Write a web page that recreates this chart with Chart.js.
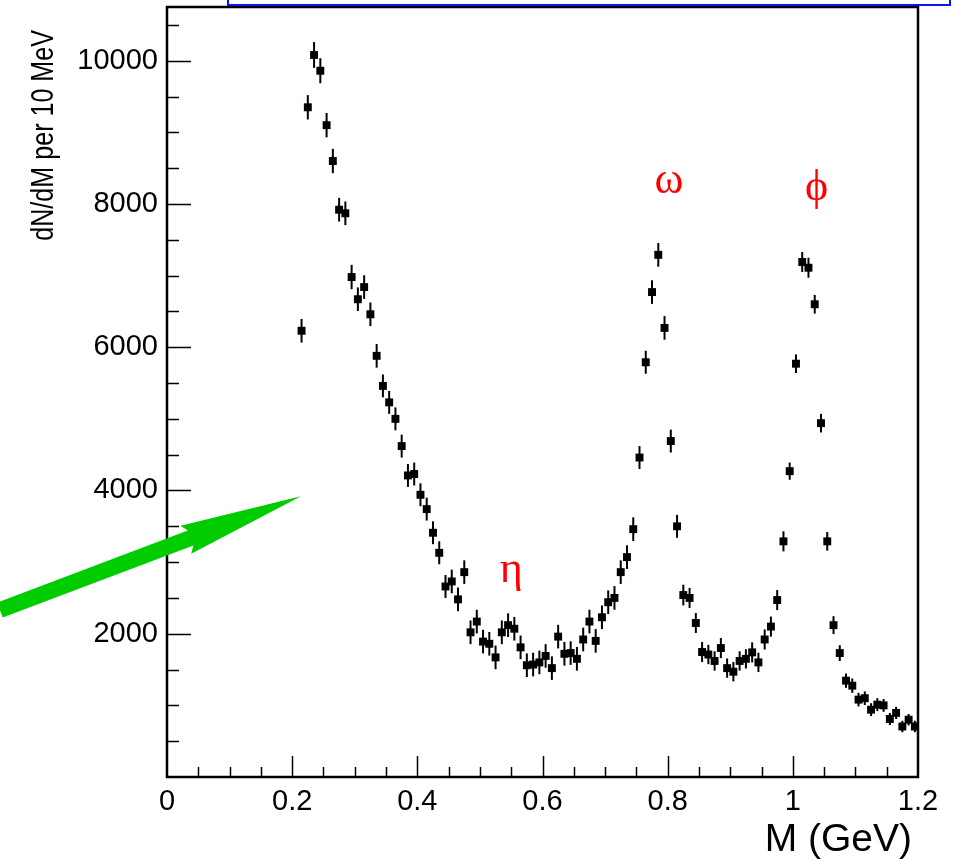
<!DOCTYPE html>
<html>
<head>
<meta charset="utf-8">
<title>Dimuon mass spectrum</title>
<script src="https://cdn.jsdelivr.net/npm/chart.js@4.4.0/dist/chart.umd.min.js"></script>
<style>
  html, body { margin: 0; padding: 0; background: #fff; }
  #wrap { width: 958px; height: 862px; }
</style>
</head>
<body>
<div id="wrap"><canvas id="massChart" width="958" height="862"></canvas></div>
<script>
// bin centres in GeV (10 MeV bins)
const massBins = [
  0.215, 0.225, 0.235, 0.245, 0.255, 0.265, 0.275, 0.285, 0.295, 0.305,
  0.315, 0.325, 0.335, 0.345, 0.355, 0.365, 0.375, 0.385, 0.395, 0.405,
  0.415, 0.425, 0.435, 0.445, 0.455, 0.465, 0.475, 0.485, 0.495, 0.505,
  0.515, 0.525, 0.535, 0.545, 0.555, 0.565, 0.575, 0.585, 0.595, 0.605,
  0.615, 0.625, 0.635, 0.645, 0.655, 0.665, 0.675, 0.685, 0.695, 0.705,
  0.715, 0.725, 0.735, 0.745, 0.755, 0.765, 0.775, 0.785, 0.795, 0.805,
  0.815, 0.825, 0.835, 0.845, 0.855, 0.865, 0.875, 0.885, 0.895, 0.905,
  0.915, 0.925, 0.935, 0.945, 0.955, 0.965, 0.975, 0.985, 0.995, 1.005,
  1.015, 1.025, 1.035, 1.045, 1.055, 1.065, 1.075, 1.085, 1.095, 1.105,
  1.115, 1.125, 1.135, 1.145, 1.155, 1.165, 1.175, 1.185, 1.195
];

// dN/dM per 10 MeV
const counts = [
  6230, 9350, 10080, 9860, 9100, 8600, 7920, 7870, 6980, 6670,
  6840, 6460, 5880, 5460, 5230, 5000, 4620, 4210, 4230, 3940,
  3740, 3410, 3130, 2660, 2730, 2480, 2860, 2020, 2170, 1890,
  1860, 1670, 2020, 2120, 2070, 1810, 1560, 1570, 1600, 1690,
  1520, 1960, 1720, 1730, 1650, 1920, 2170, 1900, 2230, 2440,
  2500, 2860, 3070, 3460, 4460, 5790, 6770, 7290, 6270, 4690,
  3500, 2540, 2500, 2150, 1745, 1710, 1620, 1800, 1520, 1470,
  1620, 1650, 1740, 1600, 1920, 2100, 2470, 3290, 4270, 5770,
  7190, 7110, 6600, 4940, 3290, 2120, 1730, 1345, 1275, 1080,
  1100, 940, 1010, 1000, 810, 895, 705, 800, 705
];

// statistical errors on counts
const countErrors = [
  165, 170, 180, 175, 170, 170, 165, 165, 170, 165,
  165, 165, 165, 160, 160, 160, 160, 160, 160, 160,
  160, 160, 160, 160, 165, 165, 165, 165, 165, 165,
  165, 165, 165, 165, 165, 165, 165, 165, 165, 165,
  165, 165, 165, 165, 165, 165, 165, 165, 165, 165,
  165, 165, 165, 165, 160, 160, 165, 165, 165, 160,
  160, 145, 140, 140, 140, 135, 135, 140, 135, 135,
  135, 135, 140, 135, 140, 140, 140, 140, 120, 130,
  140, 140, 130, 130, 130, 125, 110, 100, 100, 95,
  95, 90, 90, 90, 85, 85, 80, 80, 80
];

const xTicks = [0, 0.2, 0.4, 0.6, 0.8, 1, 1.2];
const xTickLabels = ['0', '0.2', '0.4', '0.6', '0.8', '1', '1.2'];
const yTicks = [2000, 4000, 6000, 8000, 10000];
const yTickLabels = ['2000', '4000', '6000', '8000', '10000'];
const xMinorStep = 0.05;
const yMinorStep = 500;

// resonance labels: text, mass (GeV), baseline in counts
const peakNames = ['\u03b7', '\u03c9', '\u03d5'];
const peakMass = [0.550, 0.802, 1.038];
const peakLevel = [2720, 8160, 8060];

const xTitle = 'M (GeV)';
const yTitle = 'dN/dM per 10 MeV';

// green pointer: tail and tip in data units
const arrowTail = { x: -0.267, y: 2330 };
const arrowTip = { x: 0.214, y: 3920 };

const SANS = "'Liberation Sans', Arial, Helvetica, sans-serif";

const errorBars = {
  id: 'errorBars',
  beforeDatasetsDraw(chart) {
    const { ctx, scales: { x, y } } = chart;
    ctx.save();
    ctx.strokeStyle = '#000';
    ctx.lineWidth = 2;
    massBins.forEach((m, i) => {
      const px = x.getPixelForValue(m);
      ctx.beginPath();
      ctx.moveTo(px, y.getPixelForValue(counts[i] - countErrors[i]));
      ctx.lineTo(px, y.getPixelForValue(counts[i] + countErrors[i]));
      ctx.stroke();
    });
    ctx.restore();
  }
};

// frame with inward ticks, ROOT style
const frame = {
  id: 'frame',
  afterDatasetsDraw(chart) {
    const { ctx, chartArea: a, scales: { x, y } } = chart;
    ctx.save();
    ctx.strokeStyle = '#000';
    ctx.lineWidth = 1.5;
    ctx.beginPath();
    for (let v = xMinorStep; v < x.max - 1e-6; v += xMinorStep) {
      const px = Math.round(x.getPixelForValue(v)) + 0.5;
      const major = xTicks.some(t => Math.abs(t - v) < 1e-6);
      ctx.moveTo(px, a.bottom);
      ctx.lineTo(px, a.bottom - (major ? 21 : 10));
    }
    for (let v = yMinorStep; v < y.max; v += yMinorStep) {
      const py = Math.round(y.getPixelForValue(v)) + 0.5;
      const major = yTicks.includes(v);
      ctx.moveTo(a.left, py);
      ctx.lineTo(a.left + (major ? 24 : 12), py);
    }
    ctx.stroke();
    ctx.lineWidth = 2.5;
    ctx.strokeRect(a.left, a.top, a.right - a.left, a.bottom - a.top);
    ctx.restore();
  }
};

const decorations = {
  id: 'decorations',
  afterDraw(chart) {
    const { ctx, scales: { x, y } } = chart;
    ctx.save();

    // box sitting above the frame
    ctx.strokeStyle = '#1010ff';
    ctx.lineWidth = 2;
    ctx.strokeRect(228, -20, 722, 25);

    // resonance names
    ctx.fillStyle = '#ff0000';
    ctx.font = "44px 'Liberation Serif', 'DejaVu Serif', serif";
    ctx.textAlign = 'center';
    ctx.textBaseline = 'alphabetic';
    peakNames.forEach((name, i) => {
      ctx.fillText(name, x.getPixelForValue(peakMass[i]), y.getPixelForValue(peakLevel[i]));
    });

    // axis titles
    ctx.fillStyle = '#000';
    ctx.font = '39px ' + SANS;
    ctx.textAlign = 'right';
    ctx.fillText(xTitle, 912, 851);
    ctx.save();
    ctx.translate(53, 30);
    ctx.rotate(-Math.PI / 2);
    ctx.scale(0.81, 1);
    ctx.font = '31px ' + SANS;
    ctx.textAlign = 'right';
    ctx.fillText(yTitle, 0, 0);
    ctx.restore();

    // green arrow
    const x0 = x.getPixelForValue(arrowTail.x), y0 = y.getPixelForValue(arrowTail.y);
    const x1 = x.getPixelForValue(arrowTip.x), y1 = y.getPixelForValue(arrowTip.y);
    const len = Math.hypot(x1 - x0, y1 - y0);
    const ux = (x1 - x0) / len, uy = (y1 - y0) / len;
    const nx = -uy, ny = ux;
    const headLen = 123, headHalf = 15, shaftHalf = 8, notch = 5;
    const pt = (along, side) => [x1 - ux * along + nx * side, y1 - uy * along + ny * side];
    const shape = [
      [x0 + nx * shaftHalf, y0 + ny * shaftHalf],
      pt(headLen - notch, shaftHalf),
      pt(headLen, headHalf),
      [x1, y1],
      pt(headLen, -headHalf),
      pt(headLen - notch, -shaftHalf),
      [x0 - nx * shaftHalf, y0 - ny * shaftHalf]
    ];
    ctx.fillStyle = '#00cc00';
    ctx.beginPath();
    shape.forEach(([px, py], i) => (i ? ctx.lineTo(px, py) : ctx.moveTo(px, py)));
    ctx.closePath();
    ctx.fill();

    ctx.restore();
  }
};

new Chart(document.getElementById('massChart'), {
  type: 'scatter',
  data: {
    datasets: [{
      data: massBins.map((m, i) => ({ x: m, y: counts[i] })),
      pointStyle: 'rect',
      pointRadius: 5.6,
      backgroundColor: '#000',
      borderWidth: 0
    }]
  },
  options: {
    responsive: false,
    animation: false,
    devicePixelRatio: 1,
    layout: { padding: { top: 7, right: 40, left: 0, bottom: 0 } },
    plugins: { legend: { display: false }, tooltip: { enabled: false } },
    scales: {
      x: {
        type: 'linear',
        min: 0,
        max: 1.2,
        afterFit(scale) {
          scale.height = 85;
          scale.paddingLeft = 0;
          scale.paddingRight = 0;
        },
        afterBuildTicks(scale) { scale.ticks = xTicks.map(v => ({ value: v })); },
        ticks: {
          callback: (v, i) => xTickLabels[i],
          font: { family: SANS, size: 29 },
          color: '#000',
          padding: 8,
          maxRotation: 0,
          autoSkip: false
        },
        grid: { display: false, drawTicks: false },
        border: { display: false }
      },
      y: {
        type: 'linear',
        min: 0,
        max: 10750,
        afterFit(scale) {
          scale.width = 167;
          scale.paddingTop = 0;
          scale.paddingBottom = 0;
        },
        afterBuildTicks(scale) { scale.ticks = yTicks.map(v => ({ value: v })); },
        ticks: {
          callback: (v, i) => yTickLabels[i],
          font: { family: SANS, size: 29 },
          color: '#000',
          padding: 9,
          autoSkip: false
        },
        grid: { display: false, drawTicks: false },
        border: { display: false }
      }
    }
  },
  plugins: [errorBars, frame, decorations]
});
</script>
</body>
</html>
